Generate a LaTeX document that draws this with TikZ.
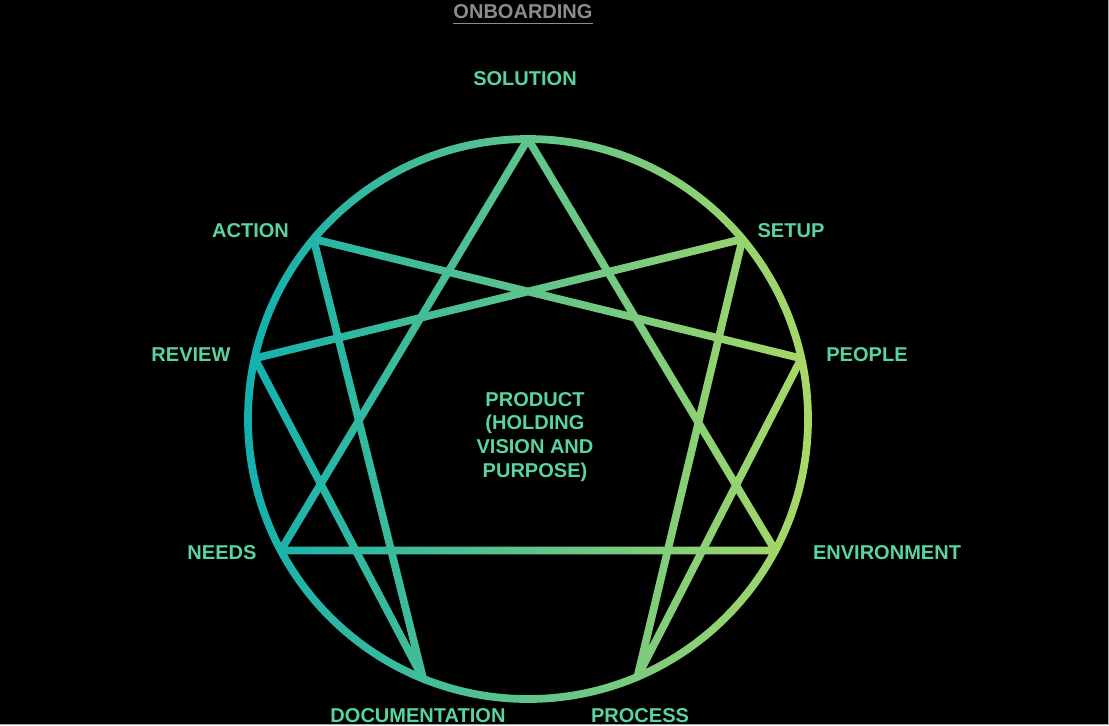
\documentclass[tikz,border=0pt]{standalone}
\usepackage{fontspec}
\setmainfont{Liberation Sans}
\usetikzlibrary{calc}
\definecolor{tealstart}{RGB}{18,176,176}
\definecolor{mintmid}{RGB}{80,198,146}
\definecolor{limeend}{RGB}{170,216,102}
\definecolor{labelgreen}{RGB}{88,212,158}
\definecolor{headgray}{RGB}{140,140,140}
\tikzset{
  lbl/.style={text=labelgreen, font=\bfseries\fontsize{11.4}{13.6}\selectfont, inner sep=0pt},
  ring/.style={draw=white, line width=4.4pt, line join=round, line cap=round}
}

\begin{document}
\begin{tikzpicture}[x=0.02cm,y=-0.02cm]
        \clip (0,0) rectangle (1109,725);
        \fill[black] (0,0) rectangle (1109,725);
        \coordinate (C) at (528,419);
        \coordinate (solution) at ($(C)+(-90:280)$);
        \coordinate (setup) at ($(C)+(-40:280)$);
        \coordinate (people) at ($(C)+(-12.5:280)$);
        \coordinate (environment) at ($(C)+(28:280)$);
        \coordinate (process) at ($(C)+(67:280)$);
        \coordinate (documentation) at ($(C)+(112:280)$);
        \coordinate (needs) at ($(C)+(152:280)$);
        \coordinate (review) at ($(C)+(192.5:280)$);
        \coordinate (action) at ($(C)+(220:280)$);
        % enneagram in white, coloured by the gradient below
        \draw[ring] (C) circle (280);
        \draw[ring] (solution) -- (environment) -- (needs) -- cycle;
        \draw[ring] (setup) -- (process) -- (people) -- (action) -- (documentation) -- (review) -- cycle;
        \shade[left color=tealstart, middle color=mintmid, right color=limeend, blend mode=multiply] (243,134) rectangle (813,704);
        % labels
        \node[lbl, text=headgray] (onboarding) at (523,11.7) {ONBOARDING};
        \draw[headgray, line width=0.85pt] ($(onboarding.base west)+(0,5)$) -- ($(onboarding.base east)+(0,5)$);
        \node[lbl] (lsolution) at (525,79) {SOLUTION};
        \node[lbl] (laction) at (250.5,231) {ACTION};
        \node[lbl] (lsetup) at (791,231) {SETUP};
        \node[lbl] (lreview) at (191,355) {REVIEW};
        \node[lbl] (lpeople) at (867,355) {PEOPLE};
        \node[lbl] (lneeds) at (222,553) {NEEDS};
        \node[lbl] (lenvironment) at (887,553) {ENVIRONMENT};
        \node[lbl] (ldocumentation) at (418,716) {DOCUMENTATION};
        \node[lbl] (lprocess) at (640,716) {PROCESS};
        \node[lbl, align=center] (product) at (535,437) {PRODUCT\\(HOLDING\\VISION AND\\PURPOSE)};
        \draw[gray!70, line width=0.6pt] (0,724.5) -- (1108.5,724.5) -- (1108.5,0);
\end{tikzpicture}
\end{document}
